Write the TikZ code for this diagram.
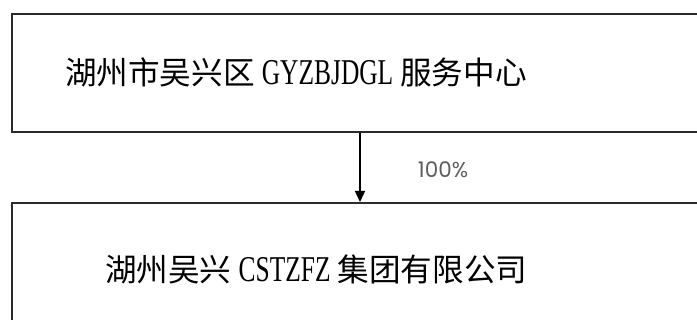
\documentclass[tikz,border=0pt]{standalone}
\usepackage{fontspec}
\usetikzlibrary{arrows.meta}
\newfontfamily\cjkf{Noto Sans CJK SC}
\newfontfamily\latf[Scale=1.15,FakeStretch=0.7]{Liberation Serif}
\newfontfamily\pctf{Poppins}
\newcommand\latx[1]{{\latf #1}}
\definecolor{boxline}{HTML}{2A2A2A}
\definecolor{pctgray}{HTML}{5E5E5E}
\tikzset{
  orgbox/.style={draw=boxline, line width=1.8pt, fill=white, inner sep=0pt, anchor=north west},
  orgtext/.style={anchor=west, inner sep=0pt, font=\cjkf\fontsize{31.6}{34}\selectfont},
  pcttext/.style={inner sep=0pt, text=pctgray, font=\pctf\fontsize{21.5}{24}\selectfont},
  flowarrow/.style={draw=black, line width=1.4pt, -{Triangle[length=11pt,width=10pt]}}
}
\begin{document}
\begin{tikzpicture}[x=1pt,y=-1pt]
\useasboundingbox (0,0) rectangle (697,320);
\clip (0,0) rectangle (697,320);
\fill[white] (0,0) rectangle (697,320);
\node[orgbox, minimum width=720pt, minimum height=118pt] (top) at (11,13) {};
\node[orgbox, minimum width=720pt, minimum height=140pt] (bot) at (11,202) {};
\node[orgtext] (toptext) at (65,72) {湖州市吴兴区 \latx{GYZBJDGL} 服务中心};
\node[orgtext] (bottext) at (105,269) {湖州吴兴 \latx{CSTZFZ} 集团有限公司};
\coordinate (ax) at (360,0);
\draw[flowarrow] (top.south -| ax) -- (bot.north -| ax);
\node[pcttext] (pct) at (443,170) {100\%};
\end{tikzpicture}
\end{document}
